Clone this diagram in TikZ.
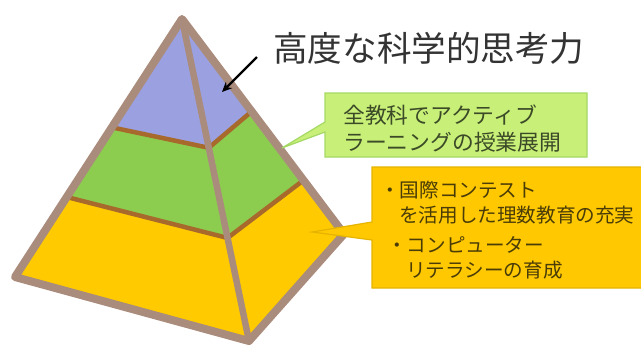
\documentclass[tikz,border=0pt]{standalone}
\usepackage{fontspec}
\newfontfamily\jp{Noto Sans CJK JP}
\usetikzlibrary{arrows.meta,calc}
\definecolor{pblue}{HTML}{9BA0E1}
\definecolor{pgreen}{HTML}{8CCD50}
\definecolor{pyellow}{HTML}{FFCA00}
\definecolor{pframe}{HTML}{AA8C7D}
\definecolor{pband}{HTML}{A8692C}
\definecolor{cgreen}{HTML}{C8F078}
\definecolor{cgreenline}{HTML}{A5D865}
\definecolor{cyellow}{HTML}{FFC800}
\definecolor{cyellowline}{HTML}{E6B400}
\definecolor{tdark}{HTML}{333333}
\definecolor{tgreen}{HTML}{3C4A28}
\definecolor{tyellow}{HTML}{4A3C08}
\begin{document}
\begin{tikzpicture}[x=1pt,y=-1pt,
  frame/.style={draw=pframe,line width=8pt,line join=round},
  ridge/.style={draw=pframe,line width=6.5pt,line cap=round},
  bandline/.style={draw=pband,line width=4.5pt},
  calloutg/.style={fill=cgreen,draw=cgreenline,line width=1.2pt},
  callouty/.style={fill=cyellow,draw=cyellowline,line width=1.2pt},
  txt/.style={inner sep=0pt,anchor=base west},
  titlefont/.style={font=\jp\fontsize{34.6}{40}\selectfont,text=tdark},
  gfont/.style={font=\jp\fontsize{21.8}{26}\selectfont,text=tgreen},
  yfont/.style={font=\jp\fontsize{19.6}{24}\selectfont,text=tyellow},
  pointer/.style={-{Stealth[length=10pt,width=9pt]},line width=2.2pt,draw=black}]
\useasboundingbox (0,0) rectangle (641,349);
\fill[white] (0,0) rectangle (641,349);
% pyramid vertices
\coordinate (A) at (182,19);
\coordinate (L) at (15,277);
\coordinate (F) at (249,341);
\coordinate (R) at (344,234);
\coordinate (P1L) at ($(A)!0.42!(L)$);
\coordinate (P1M) at ($(A)!0.40!(F)$);
\coordinate (P1R) at ($(A)!0.43!(R)$);
\coordinate (P2L) at ($(A)!0.69!(L)$);
\coordinate (P2M) at ($(A)!0.68!(F)$);
\coordinate (P2R) at ($(A)!0.75!(R)$);
% bands
\fill[pblue] (A) -- (P1L) -- (P1M) -- (P1R) -- cycle;
\fill[pgreen] (P1L) -- (P2L) -- (P2M) -- (P2R) -- (P1R) -- (P1M) -- cycle;
\fill[pyellow] (P2L) -- (L) -- (F) -- (R) -- (P2R) -- (P2M) -- cycle;
\draw[bandline] (P1L) -- (P1M) -- (P1R);
\draw[bandline] (P2L) -- (P2M) -- (P2R);
\draw[ridge] (A) -- (F);
\draw[frame] (A) -- (L) -- (F) -- (R) -- cycle;
% callouts
\coordinate (gtip) at (282,148);
\coordinate (ytip) at (312,232);
\draw[calloutg] (325,93) -- (587,93) -- (587,157) -- (325,157) -- (325,132) -- (gtip) -- (325,122) -- cycle;
\draw[callouty] (372,167) -- (642,167) -- (642,288) -- (372,288) -- (372,240) -- (ytip) -- (372,222) -- cycle;
% title and arrow
\node[txt,titlefont] (title) at (273,61) {高度な科学的思考力};
\coordinate (astart) at (257,57);
\coordinate (atip) at (222,92);
\draw[pointer] (astart) -- (atip);
% green text
\node[txt,gfont] (g1) at (343,123.4) {全教科でアクティブ};
\node[txt,gfont] (g2) at (343,150.4) {ラーニングの授業展開};
% yellow text
\node[txt,yfont] (y1) at (380,197.6) {・国際コンテスト};
\node[txt,yfont] (y2) at (399,222.6) {を活用した理数教育の充実};
\node[txt,yfont] (y3) at (387,252.6) {・コンピューター};
\node[txt,yfont] (y4) at (406,277.6) {リテラシーの育成};
\end{tikzpicture}
\end{document}
